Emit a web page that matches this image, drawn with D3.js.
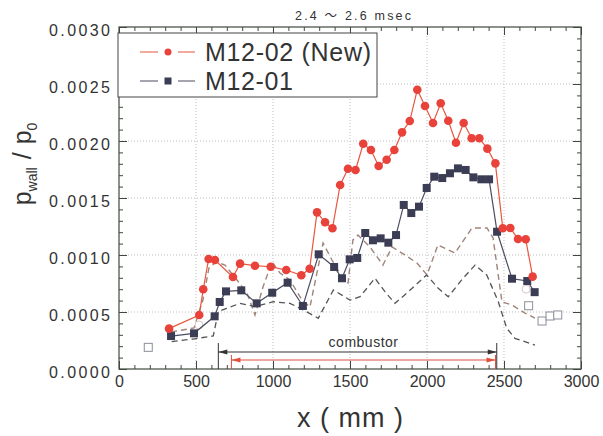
<!DOCTYPE html>
<html><head><meta charset="utf-8">
<script src="https://cdn.jsdelivr.net/npm/d3@7/dist/d3.min.js"></script>
<style>
html,body{margin:0;padding:0;background:#fff;}
svg{display:block;font-family:"Liberation Sans",Arial,"Noto Sans CJK JP",sans-serif;}
</style></head>
<body>
<svg id="chart" width="603" height="436"></svg>
<script>
// ---- data ----
const newX = [325,521,547,582,623,740,786,883,985,1086,1184,1238,1286,1338,1386,1436,1487,1536,1586,1636,1686,1738,1788,1838,1888,1937,1987,2039,2089,2138,2188,2238,2290,2340,2392,2444,2492,2541,2591,2641,2686];
const newY = [0.000354,0.000474,0.000699,0.000965,0.000956,0.000807,0.000924,0.000906,0.000897,0.000868,0.000822,0.00088,0.001374,0.001287,0.001234,0.001614,0.001756,0.001746,0.001976,0.001921,0.001781,0.001836,0.001921,0.002076,0.002175,0.00245,0.002307,0.002158,0.002331,0.002178,0.001985,0.002158,0.002024,0.002024,0.001933,0.001804,0.001234,0.001237,0.00114,0.001138,0.00081];

const oldX = [338,487,621,654,695,794,894,995,1095,1194,1297,1397,1448,1498,1547,1599,1649,1699,1749,1799,1849,1898,1948,1998,2047,2099,2149,2201,2251,2301,2353,2403,2455,2552,2651,2699];
const oldY = [0.000289,0.000313,0.000462,0.000588,0.000681,0.00069,0.000576,0.000669,0.000757,0.000553,0.001006,0.000895,0.000796,0.000962,0.000974,0.001193,0.001129,0.001146,0.001108,0.001175,0.001439,0.001368,0.001424,0.001588,0.001687,0.001675,0.001717,0.00176,0.001746,0.001681,0.001664,0.001664,0.001204,0.000792,0.000772,0.000674];

const refUpperX = [338,487,545,584,630,688,766,831,883,935,994,1045,1110,1188,1240,1325,1383,1448,1487,1519,1552,1630,1714,1773,1857,1935,2000,2071,2182,2292,2390,2429,2487,2552,2636,2701];
const refUpperY = [0.000325,0.00036,0.000605,0.000886,0.000939,0.000912,0.000781,0.000667,0.000474,0.000719,0.000939,0.000842,0.000781,0.000605,0.000544,0.001105,0.000956,0.000807,0.000754,0.001132,0.001175,0.00107,0.000912,0.00107,0.001,0.00093,0.000825,0.001088,0.001018,0.001237,0.001237,0.001149,0.000588,0.000561,0.000491,0.000447];

const refLowerX = [342,482,612,645,699,786,883,1002,1110,1197,1294,1392,1500,1565,1662,1727,1792,1879,1998,2073,2138,2225,2312,2388,2463,2518,2571,2701];
const refLowerY = [0.00024,0.000263,0.00029,0.000503,0.000532,0.000576,0.000547,0.00059,0.000576,0.000518,0.000445,0.000693,0.000605,0.000634,0.000796,0.000678,0.000576,0.000678,0.000825,0.000708,0.000634,0.000781,0.000912,0.000825,0.00059,0.000357,0.000269,0.00021];

const openSqX = [190,2660,2747,2799,2849];
const openSqY = [0.00019,0.000555,0.000421,0.000465,0.000474];
const openCircX = [519,2643];
const openCircY = [0.000386,0.0007];

const combustorOuter = [645,2453];
const combustorInner = [730,2445];

const xTicks = [0,500,1000,1500,2000,2500,3000];
const yTicks = [0,0.0005,0.001,0.0015,0.002,0.0025,0.003];
const seriesNames = ["M12-02 (New)","M12-01"];
const titleText = "2.4 〜 2.6 msec";

// ---- drawing ----
const svg = d3.select("#chart");
const L=119, R=581, T=27, B=369;
const x = d3.scaleLinear().domain([0,3000]).range([L,R]);
const y = d3.scaleLinear().domain([0,0.003]).range([B,T]);
const RED="#e8423a", REDLINE="#e8573f", NAVY="#3b3d55", NAVYLINE="#4a4d62";

// grid
const g = svg.append("g");
g.selectAll(".gx").data(xTicks.slice(1,-1)).enter().append("line")
 .attr("x1",d=>x(d)).attr("x2",d=>x(d)).attr("y1",T).attr("y2",B)
 .attr("stroke","#bdbdbd").attr("stroke-dasharray","1,2");
g.selectAll(".gy").data(yTicks.slice(1,-1)).enter().append("line")
 .attr("y1",d=>y(d)).attr("y2",d=>y(d)).attr("x1",L).attr("x2",R)
 .attr("stroke","#bdbdbd").attr("stroke-dasharray","1,2");

// axes (inward ticks)
const xMinor = d3.range(0,3001,100).filter(v=>v%500!==0);
const yMinor = d3.range(0,31).map(i=>i*0.0001).filter((v,i)=>i%5!==0);
function styleAxis(sel){sel.selectAll("path.domain").remove();sel.selectAll("line").attr("stroke","#444");}
const fmtX = d3.format("d"), fmtY = d3.format(".4f");

const ab = svg.append("g").attr("transform",`translate(0,${B})`)
 .call(d3.axisBottom(x).tickValues(xTicks).tickSize(-8).tickPadding(6).tickFormat(fmtX));
styleAxis(ab);
ab.selectAll("text").attr("font-size",16).attr("fill","#333").attr("dy","0.75em");
const abm = svg.append("g").attr("transform",`translate(0,${B})`)
 .call(d3.axisBottom(x).tickValues(xMinor).tickSize(-4).tickFormat(""));
styleAxis(abm);
const at = svg.append("g").attr("transform",`translate(0,${T})`)
 .call(d3.axisTop(x).tickValues(xTicks).tickSize(-8).tickFormat(""));
styleAxis(at);
const atm = svg.append("g").attr("transform",`translate(0,${T})`)
 .call(d3.axisTop(x).tickValues(xMinor).tickSize(-4).tickFormat(""));
styleAxis(atm);

const al = svg.append("g").attr("transform",`translate(${L},0)`)
 .call(d3.axisLeft(y).tickValues(yTicks).tickSize(-8).tickPadding(9).tickFormat(fmtY));
styleAxis(al);
al.selectAll("text").attr("font-size",16).attr("fill","#333").attr("dy","0.55em")
 .attr("textLength",61).attr("lengthAdjust","spacing");
const alm = svg.append("g").attr("transform",`translate(${L},0)`)
 .call(d3.axisLeft(y).tickValues(yMinor).tickSize(-4).tickFormat(""));
styleAxis(alm);
const ar = svg.append("g").attr("transform",`translate(${R},0)`)
 .call(d3.axisRight(y).tickValues(yTicks).tickSize(-8).tickFormat(""));
styleAxis(ar);
const arm = svg.append("g").attr("transform",`translate(${R},0)`)
 .call(d3.axisRight(y).tickValues(yMinor).tickSize(-4).tickFormat(""));
styleAxis(arm);

// frame
svg.append("rect").attr("x",L).attr("y",T).attr("width",R-L).attr("height",B-T)
 .attr("fill","none").attr("stroke","#3d4a3d").attr("stroke-width",1.2);

// reference dashed lines
const line = d3.line().x(d=>x(d[0])).y(d=>y(d[1]));
svg.append("path").datum(d3.zip(refUpperX,refUpperY)).attr("d",line)
 .attr("fill","none").attr("stroke","#a0847a").attr("stroke-width",1.4).attr("stroke-dasharray","6,4");
svg.append("path").datum(d3.zip(refLowerX,refLowerY)).attr("d",line)
 .attr("fill","none").attr("stroke","#555").attr("stroke-width",1.3).attr("stroke-dasharray","6,4");

// open markers
svg.selectAll(".osq").data(d3.zip(openSqX,openSqY)).enter().append("rect")
 .attr("x",d=>x(d[0])-4).attr("y",d=>y(d[1])-4).attr("width",8).attr("height",8)
 .attr("fill","#fff").attr("stroke","#8a8f99").attr("stroke-width",1);
svg.selectAll(".oci").data(d3.zip(openCircX,openCircY)).enter().append("circle")
 .attr("cx",d=>x(d[0])).attr("cy",d=>y(d[1])).attr("r",4)
 .attr("fill","#fff").attr("stroke","#d8c8c8").attr("stroke-width",1);

// M12-01
svg.append("path").datum(d3.zip(oldX,oldY)).attr("d",line)
 .attr("fill","none").attr("stroke",NAVYLINE).attr("stroke-width",1.2);
svg.selectAll(".sq").data(d3.zip(oldX,oldY)).enter().append("rect")
 .attr("x",d=>x(d[0])-4).attr("y",d=>y(d[1])-4).attr("width",8).attr("height",8)
 .attr("fill",NAVY);

// M12-02 (New)
svg.append("path").datum(d3.zip(newX,newY)).attr("d",line)
 .attr("fill","none").attr("stroke",REDLINE).attr("stroke-width",1.2);
svg.selectAll(".ci").data(d3.zip(newX,newY)).enter().append("circle")
 .attr("cx",d=>x(d[0])).attr("cy",d=>y(d[1])).attr("r",4.3).attr("fill",RED);

// combustor annotation
const ca = svg.append("g");
const yArrOuter = 352, yArrInner = 360;
[combustorOuter[0],combustorOuter[1]].forEach(v=>{
  ca.append("line").attr("x1",x(v)).attr("x2",x(v)).attr("y1",343).attr("y2",B).attr("stroke","#333").attr("stroke-width",1);
});
ca.append("line").attr("x1",x(combustorOuter[0])).attr("x2",x(combustorOuter[1]))
 .attr("y1",yArrOuter).attr("y2",yArrOuter).attr("stroke","#333").attr("stroke-width",1);
function head(xp,yp,dir,col){
  ca.append("path").attr("d",`M${xp},${yp} L${xp-dir*9},${yp-2.5} L${xp-dir*9},${yp+2.5} Z`).attr("fill",col);
}
head(x(combustorOuter[0]),yArrOuter,-1,"#333");
head(x(combustorOuter[1]),yArrOuter,1,"#333");
[combustorInner[0],combustorInner[1]].forEach(v=>{
  ca.append("line").attr("x1",x(v)).attr("x2",x(v)).attr("y1",355).attr("y2",B).attr("stroke","#e0503c").attr("stroke-width",1);
});
ca.append("line").attr("x1",x(combustorInner[0])).attr("x2",x(combustorInner[1]))
 .attr("y1",yArrInner).attr("y2",yArrInner).attr("stroke","#e0503c").attr("stroke-width",1);
head(x(combustorInner[0]),yArrInner,-1,"#e0503c");
head(x(combustorInner[1]),yArrInner,1,"#e0503c");
ca.append("text").attr("x",x((combustorOuter[0]+combustorOuter[1])/2)+6).attr("y",347)
 .attr("text-anchor","middle").attr("font-size",14).attr("fill","#333").attr("letter-spacing","0.5").text("combustor");

// legend
const lg = svg.append("g");
lg.append("rect").attr("x",118).attr("y",33).attr("width",259).attr("height",64)
 .attr("fill","#fff").attr("stroke","#444").attr("stroke-width",1);
const legY=[52,81];
seriesNames.forEach((name,i)=>{
  const col = i===0?REDLINE:NAVYLINE;
  lg.append("line").attr("x1",140).attr("x2",195).attr("y1",legY[i]).attr("y2",legY[i]).attr("stroke",col).attr("stroke-width",1.2);
  lg.append("rect").attr("x",158).attr("y",legY[i]-3).attr("width",20).attr("height",6).attr("fill","#fff");
  if(i===0) lg.append("circle").attr("cx",168).attr("cy",legY[i]).attr("r",3.5).attr("fill",RED);
  else lg.append("rect").attr("x",164.5).attr("y",legY[i]-3.5).attr("width",7).attr("height",7).attr("fill",NAVY);
  lg.append("text").attr("x",205).attr("y",legY[i]+9).attr("font-size",25).attr("fill","#333")
   .attr("textLength",i===0?166:88).attr("lengthAdjust","spacing").text(name);
});

// title
svg.append("text").attr("x",353).attr("y",20).attr("text-anchor","middle").attr("font-size",12.5)
 .attr("fill","#333").attr("textLength",116).attr("lengthAdjust","spacing").text(titleText);

// axis titles
svg.append("text").attr("x",350).attr("y",427).attr("text-anchor","middle")
 .attr("font-size",27).attr("fill","#333").attr("textLength",106).attr("lengthAdjust","spacing").text("x ( mm )");
const yt = svg.append("text").attr("transform","translate(31,164) rotate(-90)").attr("text-anchor","middle")
 .attr("font-size",25).attr("fill","#333");
yt.append("tspan").text("p");
yt.append("tspan").attr("font-size",14).attr("dy",6).text("wall");
yt.append("tspan").attr("dy",-6).attr("dx",8).text("/");
yt.append("tspan").attr("dx",8).text("p");
yt.append("tspan").attr("font-size",14).attr("dy",6).text("0");
</script>
</body></html>
